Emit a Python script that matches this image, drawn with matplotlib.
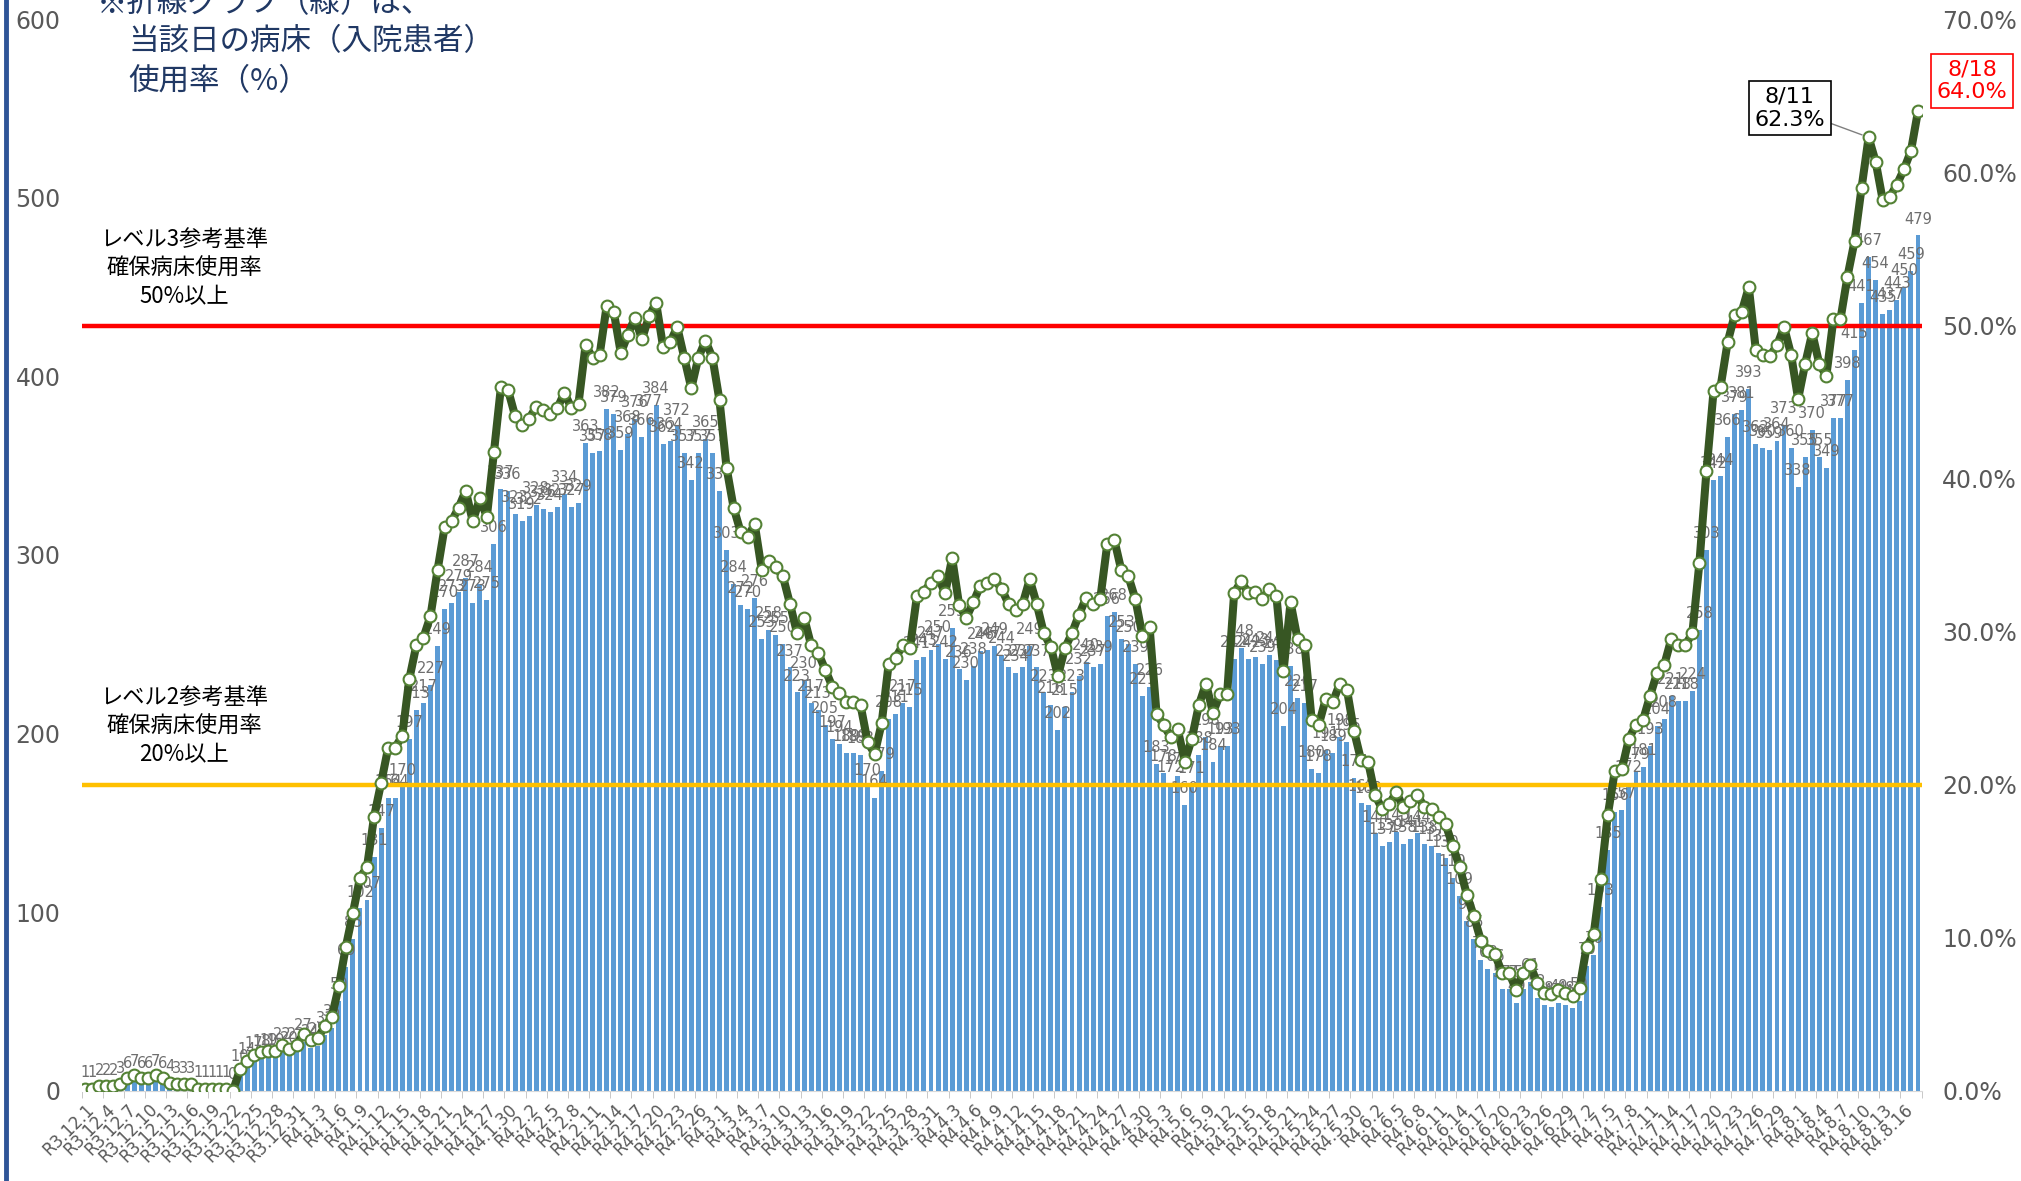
import matplotlib
matplotlib.use('Agg')
import matplotlib.pyplot as plt
from matplotlib.lines import Line2D
from matplotlib.ticker import FuncFormatter
import numpy as np
import pandas as pd

plt.rcParams['font.family'] = ['Noto Sans CJK JP', 'DejaVu Sans']

# 入院患者数（人） R3.12.1 ～ R4.8.18
patients = (
    [1, 1, 2, 2, 2, 3, 6, 7, 6, 6, 7, 6, 4, 3, 3, 3, 1, 1, 1, 1, 1, 0, 10, 14, 17, 18, 19, 19, 22, 20, 22]  # 12月
    + [27, 24, 25, 31, 35, 50, 69, 85, 102, 107, 131, 147, 164, 164, 170, 197, 213, 217, 227, 249,
       270, 273, 279, 287, 273, 284, 275, 306, 337, 336, 323]  # 1月
    + [319, 322, 328, 326, 324, 327, 334, 327, 329, 363, 357, 358, 382, 379, 359, 368, 376, 366, 377, 384,
       362, 364, 372, 357, 342, 357, 365, 357]  # 2月
    + [336, 303, 284, 272, 270, 276, 253, 258, 255, 250, 237, 223, 230, 217, 213, 205, 197, 194, 189, 189,
       188, 170, 164, 179, 208, 211, 217, 215, 241, 243, 247]  # 3月
    + [250, 242, 259, 236, 230, 238, 246, 247, 249, 244, 237, 234, 237, 249, 237, 223, 216, 202, 215, 223,
       232, 240, 237, 239, 266, 268, 253, 250, 239, 221]  # 4月
    + [226, 183, 178, 172, 176, 160, 171, 188, 198, 184, 193, 193, 242, 248, 242, 243, 239, 244, 241, 204,
       238, 220, 217, 180, 178, 191, 189, 198, 195, 175, 161]  # 5月
    + [160, 144, 137, 139, 145, 138, 141, 144, 138, 137, 133, 130, 119, 109, 95, 85, 73, 68, 66, 57,
       57, 49, 57, 61, 52, 48, 47, 49, 48, 46]  # 6月
    + [50, 70, 76, 103, 135, 156, 157, 172, 179, 181, 193, 204, 208, 221, 218, 218, 224, 258, 303, 342,
       344, 366, 379, 381, 393, 362, 360, 359, 364, 373, 360]  # 7月
    + [338, 355, 370, 355, 349, 377, 377, 398, 415, 441, 467, 454, 435, 437, 443, 450, 459, 479]  # 8月
)

# 病床使用率（%）
rate = (
    [0.1, 0.1, 0.3, 0.3, 0.3, 0.4, 0.8, 1.0, 0.8, 0.8, 1.0, 0.8, 0.5, 0.4, 0.4, 0.4, 0.1, 0.1, 0.1, 0.1,
     0.1, 0.0, 1.4, 1.9, 2.3, 2.5, 2.6, 2.6, 3.0, 2.7, 3.0]
    + [3.7, 3.3, 3.4, 4.2, 4.8, 6.8, 9.4, 11.6, 13.9, 14.6, 17.9, 20.1, 22.4, 22.4, 23.2, 26.9, 29.1, 29.6,
       31.0, 34.0, 36.8, 37.2, 38.1, 39.2, 37.2, 38.7, 37.5, 41.7, 46.0, 45.8, 44.1]
    + [43.5, 43.9, 44.7, 44.5, 44.2, 44.6, 45.6, 44.6, 44.9, 48.7, 47.9, 48.1, 51.3, 50.9, 48.2, 49.4,
       50.5, 49.1, 50.6, 51.5, 48.6, 48.9, 49.9, 47.9, 45.9, 47.9, 49.0, 47.9]
    + [45.1, 40.7, 38.1, 36.5, 36.2, 37.0, 34.0, 34.6, 34.2, 33.6, 31.8, 29.9, 30.9, 29.1, 28.6, 27.5,
       26.4, 26.0, 25.4, 25.4, 25.2, 22.8, 22.0, 24.0, 27.9, 28.3, 29.1, 28.9, 32.3, 32.6, 33.2]
    + [33.6, 32.5, 34.8, 31.7, 30.9, 31.9, 33.0, 33.2, 33.4, 32.8, 31.8, 31.4, 31.8, 33.4, 31.8, 29.9,
       29.0, 27.1, 28.9, 29.9, 31.1, 32.2, 31.8, 32.1, 35.7, 36.0, 34.0, 33.6, 32.1, 29.7]
    + [30.3, 24.6, 23.9, 23.1, 23.6, 21.5, 23.0, 25.2, 26.6, 24.7, 25.9, 25.9, 32.5, 33.3, 32.5, 32.6,
       32.1, 32.8, 32.3, 27.4, 31.9, 29.5, 29.1, 24.2, 23.9, 25.6, 25.4, 26.6, 26.2, 23.5, 21.6]
    + [21.5, 19.3, 18.4, 18.7, 19.5, 18.5, 18.9, 19.3, 18.5, 18.4, 17.9, 17.4, 16.0, 14.6, 12.8, 11.4,
       9.8, 9.1, 8.9, 7.7, 7.7, 6.6, 7.7, 8.2, 7.0, 6.4, 6.3, 6.6, 6.4, 6.2]
    + [6.7, 9.4, 10.2, 13.8, 18.0, 20.9, 21.0, 23.0, 23.9, 24.2, 25.8, 27.3, 27.8, 29.5, 29.1, 29.1,
       29.9, 34.5, 40.5, 45.7, 46.0, 48.9, 50.7, 50.9, 52.5, 48.4, 48.1, 48.0, 48.7, 49.9, 48.1]
    + [45.2, 47.5, 49.5, 47.5, 46.7, 50.4, 50.4, 53.2, 55.5, 59.0, 62.3, 60.7, 58.2, 58.4, 59.2, 60.2,
       61.4, 64.0]
)

dates = pd.date_range('2021-12-01', '2022-08-18', freq='D')
day_labels = ['R%d.%d.%d' % (d.year - 2018, d.month, d.day) for d in dates]

lv3_rate = 50.0
lv2_rate = 20.0
peak_idx, peak_text = 253, '8/11\n62.3%'
last_text = '8/18\n64.0%'

W, H = 2021, 1181
num_font = ['DejaVu Sans']
gray = '#595959'


def px(x, y):
    return x / W, 1 - y / H


fig = plt.figure(figsize=(W / 100, H / 100), dpi=100)
ax = fig.add_axes([81.5 / W, 90.5 / H, 1840 / W, 1071 / H])
ax2 = ax.twinx()

x = np.arange(len(patients))
ax.bar(x, patients, width=0.7, color='#5B9BD5', zorder=2)
for i, v in enumerate(patients):
    ax.text(i, v + 5, str(v), ha='center', va='bottom', fontsize=10.5, family=num_font,
            color='#6E6E6E', zorder=3)

ax.set_xlim(-0.5, len(patients) - 0.5)
ax.set_ylim(0, 600)
ax.set_yticks(range(0, 601, 100))
ax.tick_params(axis='y', length=0, pad=15, labelsize=17, labelcolor=gray)
ax.set_xticks(x[::3])
ax.set_xticklabels(day_labels[::3], rotation=45, ha='right', va='top',
                   rotation_mode='anchor', fontsize=12, color=gray, family=num_font)
ax.tick_params(axis='x', which='major', length=0, pad=7)
ax.set_xticks(np.arange(-0.5, len(patients), 3), minor=True)
ax.tick_params(axis='x', which='minor', length=5, color='#BFBFBF')
for s in ['top', 'left', 'right']:
    ax.spines[s].set_visible(False)
ax.spines['bottom'].set_color('#D9D9D9')
for t in ax.get_yticklabels():
    t.set_family(num_font)

ax2.axhline(lv3_rate, color='#FF0000', lw=3.2, zorder=3)
ax2.axhline(lv2_rate, color='#FFC000', lw=3.2, zorder=3)
ax2.plot(x, rate, color='#375623', lw=5.8, marker='o', ms=8.5, mfc='white',
         mec='#548235', mew=1.5, zorder=5)
ax2.set_ylim(0, 70)
ax2.set_yticks(range(0, 71, 10))
ax2.yaxis.set_major_formatter(FuncFormatter(lambda v, p: '%.1f%%' % v))
ax2.tick_params(axis='y', length=0, pad=15, labelsize=17, labelcolor=gray)
for t in ax2.get_yticklabels():
    t.set_family(num_font)
for s in ax2.spines.values():
    s.set_visible(False)

ax2.annotate(peak_text, xy=(peak_idx, rate[peak_idx]), xytext=(241.8, 64.2),
             ha='center', va='center', fontsize=16, color='black', family=num_font,
             bbox=dict(boxstyle='square,pad=0.25', fc='white', ec='black', lw=1.2),
             arrowprops=dict(arrowstyle='-', color='#7F7F7F', lw=1, shrinkA=0, shrinkB=5),
             zorder=6)
ax2.text(267.7, 66.0, last_text, ha='center', va='center', fontsize=16, color='#FF0000',
         family=num_font,
         bbox=dict(boxstyle='square,pad=0.25', fc='white', ec='#FF0000', lw=1.2),
         clip_on=False, zorder=6)

fig.text(*px(97, 4), '※折線グラフ（緑）は、', fontsize=22, color='#203864', va='center')
fig.text(*px(128, 42), '当該日の病床（入院患者）', fontsize=22, color='#203864', va='center')
fig.text(*px(128, 82), '使用率（%）', fontsize=22, color='#203864', va='center')

fig.text(*px(184, 268), 'レベル3参考基準\n確保病床使用率\n50%以上', fontsize=16,
         ha='center', va='center', linespacing=1.3, multialignment='center')
fig.text(*px(184, 726), 'レベル2参考基準\n確保病床使用率\n20%以上', fontsize=16,
         ha='center', va='center', linespacing=1.3, multialignment='center')

fig.add_artist(Line2D([6 / W, 6 / W], [0, 1], transform=fig.transFigure,
                      color='#2F5597', lw=3.5))

fig.savefig('out.png', dpi=100)
